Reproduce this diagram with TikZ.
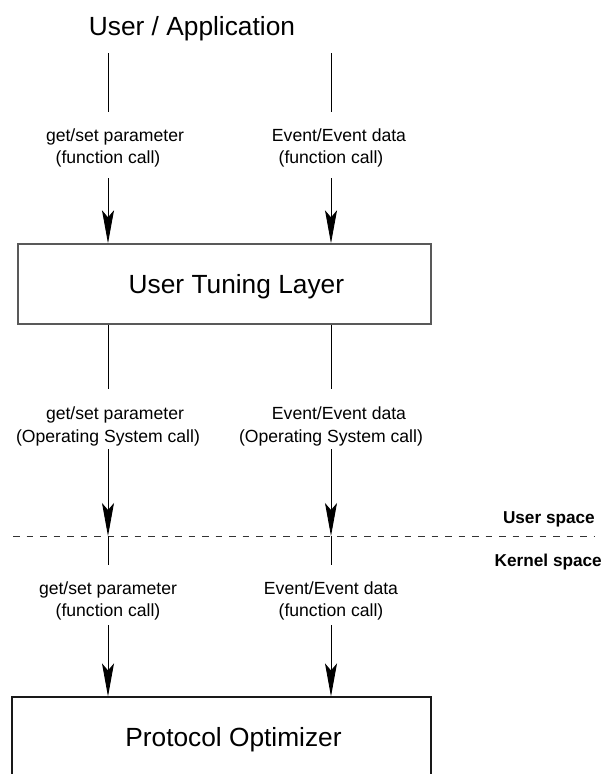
\documentclass[tikz,border=0pt]{standalone}
\usepackage{fontspec}
\setmainfont{Liberation Sans}
\usetikzlibrary{arrows.meta}

\tikzset{
  appname/.style={font=\fontsize{26.3}{30}\selectfont, inner sep=0pt},
  layerbox/.style={draw, rectangle, minimum height=80pt, inner sep=0pt,
    font=\fontsize{26.3}{30}\selectfont, text height=18.8pt, text depth=0pt},
  callnode/.style={align=center, font=\fontsize{17.6}{22.5}\selectfont, inner sep=0pt},
  spacelabel/.style={font=\fontsize{17.2}{20}\selectfont\bfseries, inner sep=0pt},
  link/.style={line width=0.9pt},
  arr/.style={link, -{Stealth[length=33pt,width=12pt,inset=7pt]}},
  boundary/.style={line width=0.9pt, black!80, dash pattern=on 6.5pt off 7pt},
}

\begin{document}
\begin{tikzpicture}[x=1pt,y=-1pt]

  \clip (0,0) rectangle (604,774);

  % layers
  \node[appname, anchor=base] (app) at (192,35) {User / Application};
  \node[layerbox, draw=black!65, line width=1.4pt, minimum width=413pt]
    (tuning) at (224.4,284) {\hspace*{24pt}User Tuning Layer};
  \node[layerbox, draw=black!90, line width=1.2pt, minimum width=419pt]
    (optimizer) at (221.5,737) {\hspace*{24pt}Protocol Optimizer};

  % user / kernel boundary
  \coordinate (us-w) at (13,536);
  \coordinate (us-e) at (595,536);
  \draw[boundary] (us-w) -- (us-e);
  \node[spacelabel, anchor=base east] (userspace) at (595,523) {User space};
  \node[spacelabel, anchor=base east] (kernelspace) at (602,566) {Kernel space};

  % application -> tuning layer
  \node[callnode] (getset1) at (108,148) {\hspace*{14pt}get/set parameter\\(function call)};
  \node[callnode] (event1) at (331,148) {\hspace*{16pt}Event/Event data\\(function call)};
  \draw[link] ([yshift=95pt]getset1.center) -- ([yshift=36pt]getset1.center);
  \draw[arr] ([yshift=-30pt]getset1.center) -- (getset1 |- tuning.north);
  \draw[link] ([yshift=95pt]event1.center) -- ([yshift=36pt]event1.center);
  \draw[arr] ([yshift=-30pt]event1.center) -- (event1 |- tuning.north);

  % tuning layer -> boundary
  \node[callnode] (getset2) at (108,426.5) {\hspace*{14pt}get/set parameter\\(Operating System call)};
  \node[callnode] (event2) at (331,426.5) {\hspace*{16pt}Event/Event data\\(Operating System call)};
  \draw[link] (getset2 |- tuning.south) -- ([yshift=37.5pt]getset2.center);
  \draw[arr] ([yshift=-22.5pt]getset2.center) -- (getset2 |- us-w);
  \draw[link] (event2 |- tuning.south) -- ([yshift=37.5pt]event2.center);
  \draw[arr] ([yshift=-22.5pt]event2.center) -- (event2 |- us-w);

  % boundary -> protocol optimizer
  \node[callnode] (getset3) at (108,601) {get/set parameter\\(function call)};
  \node[callnode] (event3) at (331,601) {Event/Event data\\(function call)};
  \draw[link] (getset3 |- us-w) -- ([yshift=36pt]getset3.center);
  \draw[arr] ([yshift=-24pt]getset3.center) -- (getset3 |- optimizer.north);
  \draw[link] (event3 |- us-w) -- ([yshift=36pt]event3.center);
  \draw[arr] ([yshift=-24pt]event3.center) -- (event3 |- optimizer.north);

\end{tikzpicture}
\end{document}
